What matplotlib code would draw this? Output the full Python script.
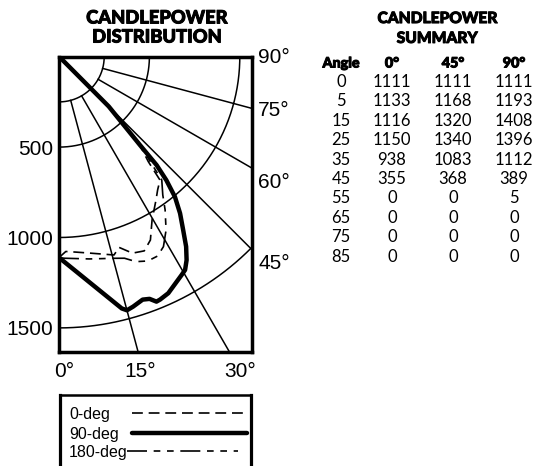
import numpy as np
import matplotlib.pyplot as plt
import matplotlib.patheffects as pe

# summary table values
summary_angles = [0, 5, 15, 25, 35, 45, 55, 65, 75, 85]
summary_0 = [1111, 1133, 1116, 1150, 938, 355, 0, 0, 0, 0]
summary_45 = [1111, 1168, 1320, 1340, 1083, 368, 0, 0, 0, 0]
summary_90 = [1111, 1193, 1408, 1396, 1112, 389, 5, 0, 0, 0]

# curves (vertical angle in deg, candela)
ang_0deg = [0, 2, 5, 9, 15.5, 17.5, 20.5, 23.7, 26.5, 29.7, 34.1, 36.5, 39.3, 40.4, 43, 45, 55, 65, 75, 85, 90]
cd_0deg = [1111, 1078, 1085, 1100, 1138, 1106, 1160, 1173, 1133, 1039, 957, 917, 882, 762, 640, 370, 0, 0, 0, 0, 0]

ang_90deg = [0, 14, 15, 16.5, 19, 20.5, 21.7, 22.6, 24.8, 29.3, 30.6, 32.1, 33.8, 35.6, 37.7, 39.6, 41, 42, 42.5, 45, 55, 65, 75, 85, 90]
cd_90deg = [1111, 1435, 1452, 1442, 1421, 1430, 1458, 1455, 1441, 1385, 1370, 1328, 1264, 1180, 1095, 1006, 905, 807, 663, 389, 5, 0, 0, 0, 0]

ang_180deg = [0, 1.5, 8.5, 15.3, 18, 20.6, 23.5, 26.3, 28.8, 31.7, 34.7, 36.9, 39.8, 41, 43, 45, 55, 65, 75, 85, 90]
cd_180deg = [1111, 1115, 1131, 1156, 1172, 1211, 1232, 1230, 1199, 1127, 1031, 956, 888, 770, 650, 380, 0, 0, 0, 0, 0]

arc_radii = [250, 500, 1000, 1500]
ray_angles = [15, 30, 45, 60, 75]
left_ticks = [500, 1000, 1500]

W, H = 535, 466
fig = plt.figure(figsize=(W / 100, H / 100), dpi=100)

def fx(x):
    return x / W

def fy(y):
    return 1 - y / H

tick_font = 'Liberation Sans'
head_font = 'Lato'
heavy = [pe.withStroke(linewidth=0.7, foreground='black')]

scale = 0.1808  # px per candela
left, top, right, bottom = 59, 56.7, 252, 352
ax = fig.add_axes([fx(left), fy(bottom), (right - left) / W, (bottom - top) / H])
xmax = (right - left) / scale
ymax = (bottom - top) / scale
ax.set_xlim(0, xmax)
ax.set_ylim(ymax, 0)

# grid: arcs and rays
t = np.linspace(0, np.pi / 2, 300)
for r in arc_radii:
    ax.plot(r * np.sin(t), r * np.cos(t), color='black', lw=1.1, zorder=1)
for a in ray_angles:
    rad = np.radians(a)
    ax.plot([250 * np.sin(rad), 4000 * np.sin(rad)], [250 * np.cos(rad), 4000 * np.cos(rad)],
            color='black', lw=1.1, zorder=1)

style_0 = dict(color='black', lw=1.2, dashes=(6.5, 3.5))
style_90 = dict(color='black', lw=3.2, solid_joinstyle='round', solid_capstyle='round')
style_180 = dict(color='black', lw=1.2, dashes=(12, 4, 4, 4, 4, 4))

def plot_curve(angles, cds, style):
    a = np.radians(np.array(angles))
    c = np.array(cds, dtype=float)
    ax.plot(c * np.sin(a), c * np.cos(a), zorder=3, **style)

plot_curve(ang_0deg, cd_0deg, style_0)
plot_curve(ang_180deg, cd_180deg, style_180)
plot_curve(ang_90deg, cd_90deg, style_90)

for s in ax.spines.values():
    s.set_linewidth(2.5)

ax.set_yticks(left_ticks)
ax.set_yticklabels([str(v) for v in left_ticks], family=tick_font, fontsize=15)
ax.set_xticks([28, 448, 1000])
ax.set_xticklabels(['0°', '15°', '30°'], family=tick_font, fontsize=15)
ax.tick_params(axis='y', length=0, pad=4)
ax.tick_params(axis='x', length=0, pad=7)

right_labels = ['90°', '75°', '60°', '45°']
right_pos = [5, 295, 697, 1145]
for lab, yv in zip(right_labels, right_pos):
    ax.annotate(lab, xy=(1, yv), xycoords=('axes fraction', 'data'), xytext=(4.5, 0),
                textcoords='offset points', ha='left', va='center',
                family=tick_font, fontsize=15, annotation_clip=False)

# titles
fig.text(fx(157), fy(27.5), 'CANDLEPOWER\nDISTRIBUTION', ha='center', va='center',
         family=head_font, fontweight='black', fontsize=13.2, linespacing=1.15,
         path_effects=heavy)
fig.text(fx(437), fy(28), 'CANDLEPOWER\nSUMMARY', ha='center', va='center',
         family=head_font, fontweight='black', fontsize=11.2, linespacing=1.3,
         path_effects=heavy)

# summary table
col_x = [341, 392, 453, 514]
headers = ['Angle', '0°', '45°', '90°']
for x, h in zip(col_x, headers):
    fig.text(fx(x), fy(63.5), h, ha='center', va='center', family=head_font,
             fontweight='black', fontsize=10.3, path_effects=heavy)
for i, a in enumerate(summary_angles):
    y = 82 + 19.4 * i
    row = [a, summary_0[i], summary_45[i], summary_90[i]]
    for x, v in zip(col_x, row):
        fig.text(fx(x), fy(y), str(v), ha='center', va='center', family=head_font,
                 fontsize=12)

# legend box, its bottom runs off the figure
lax = fig.add_axes([fx(60), fy(478), (251.3 - 60) / W, (478 - 394.5) / H])
lax.set_xlim(0, 191.3)
lax.set_ylim(83.5, 0)
lax.set_xticks([])
lax.set_yticks([])
for s in lax.spines.values():
    s.set_linewidth(2.3)
lax.spines['top'].set_linewidth(1.8)
legend_rows = [('0-deg', style_0, 72, 187, 18), ('90-deg', style_90, 72, 187, 38),
               ('180-deg', style_180, 67, 178, 56.5)]
for lab, st, x0, x1, yy in legend_rows:
    lax.text(9, yy + 1.5, lab, ha='left', va='center', family=tick_font, fontsize=11.5)
    lax.plot([x0, x1], [yy, yy], **st)

fig.savefig('out.png', dpi=100)
